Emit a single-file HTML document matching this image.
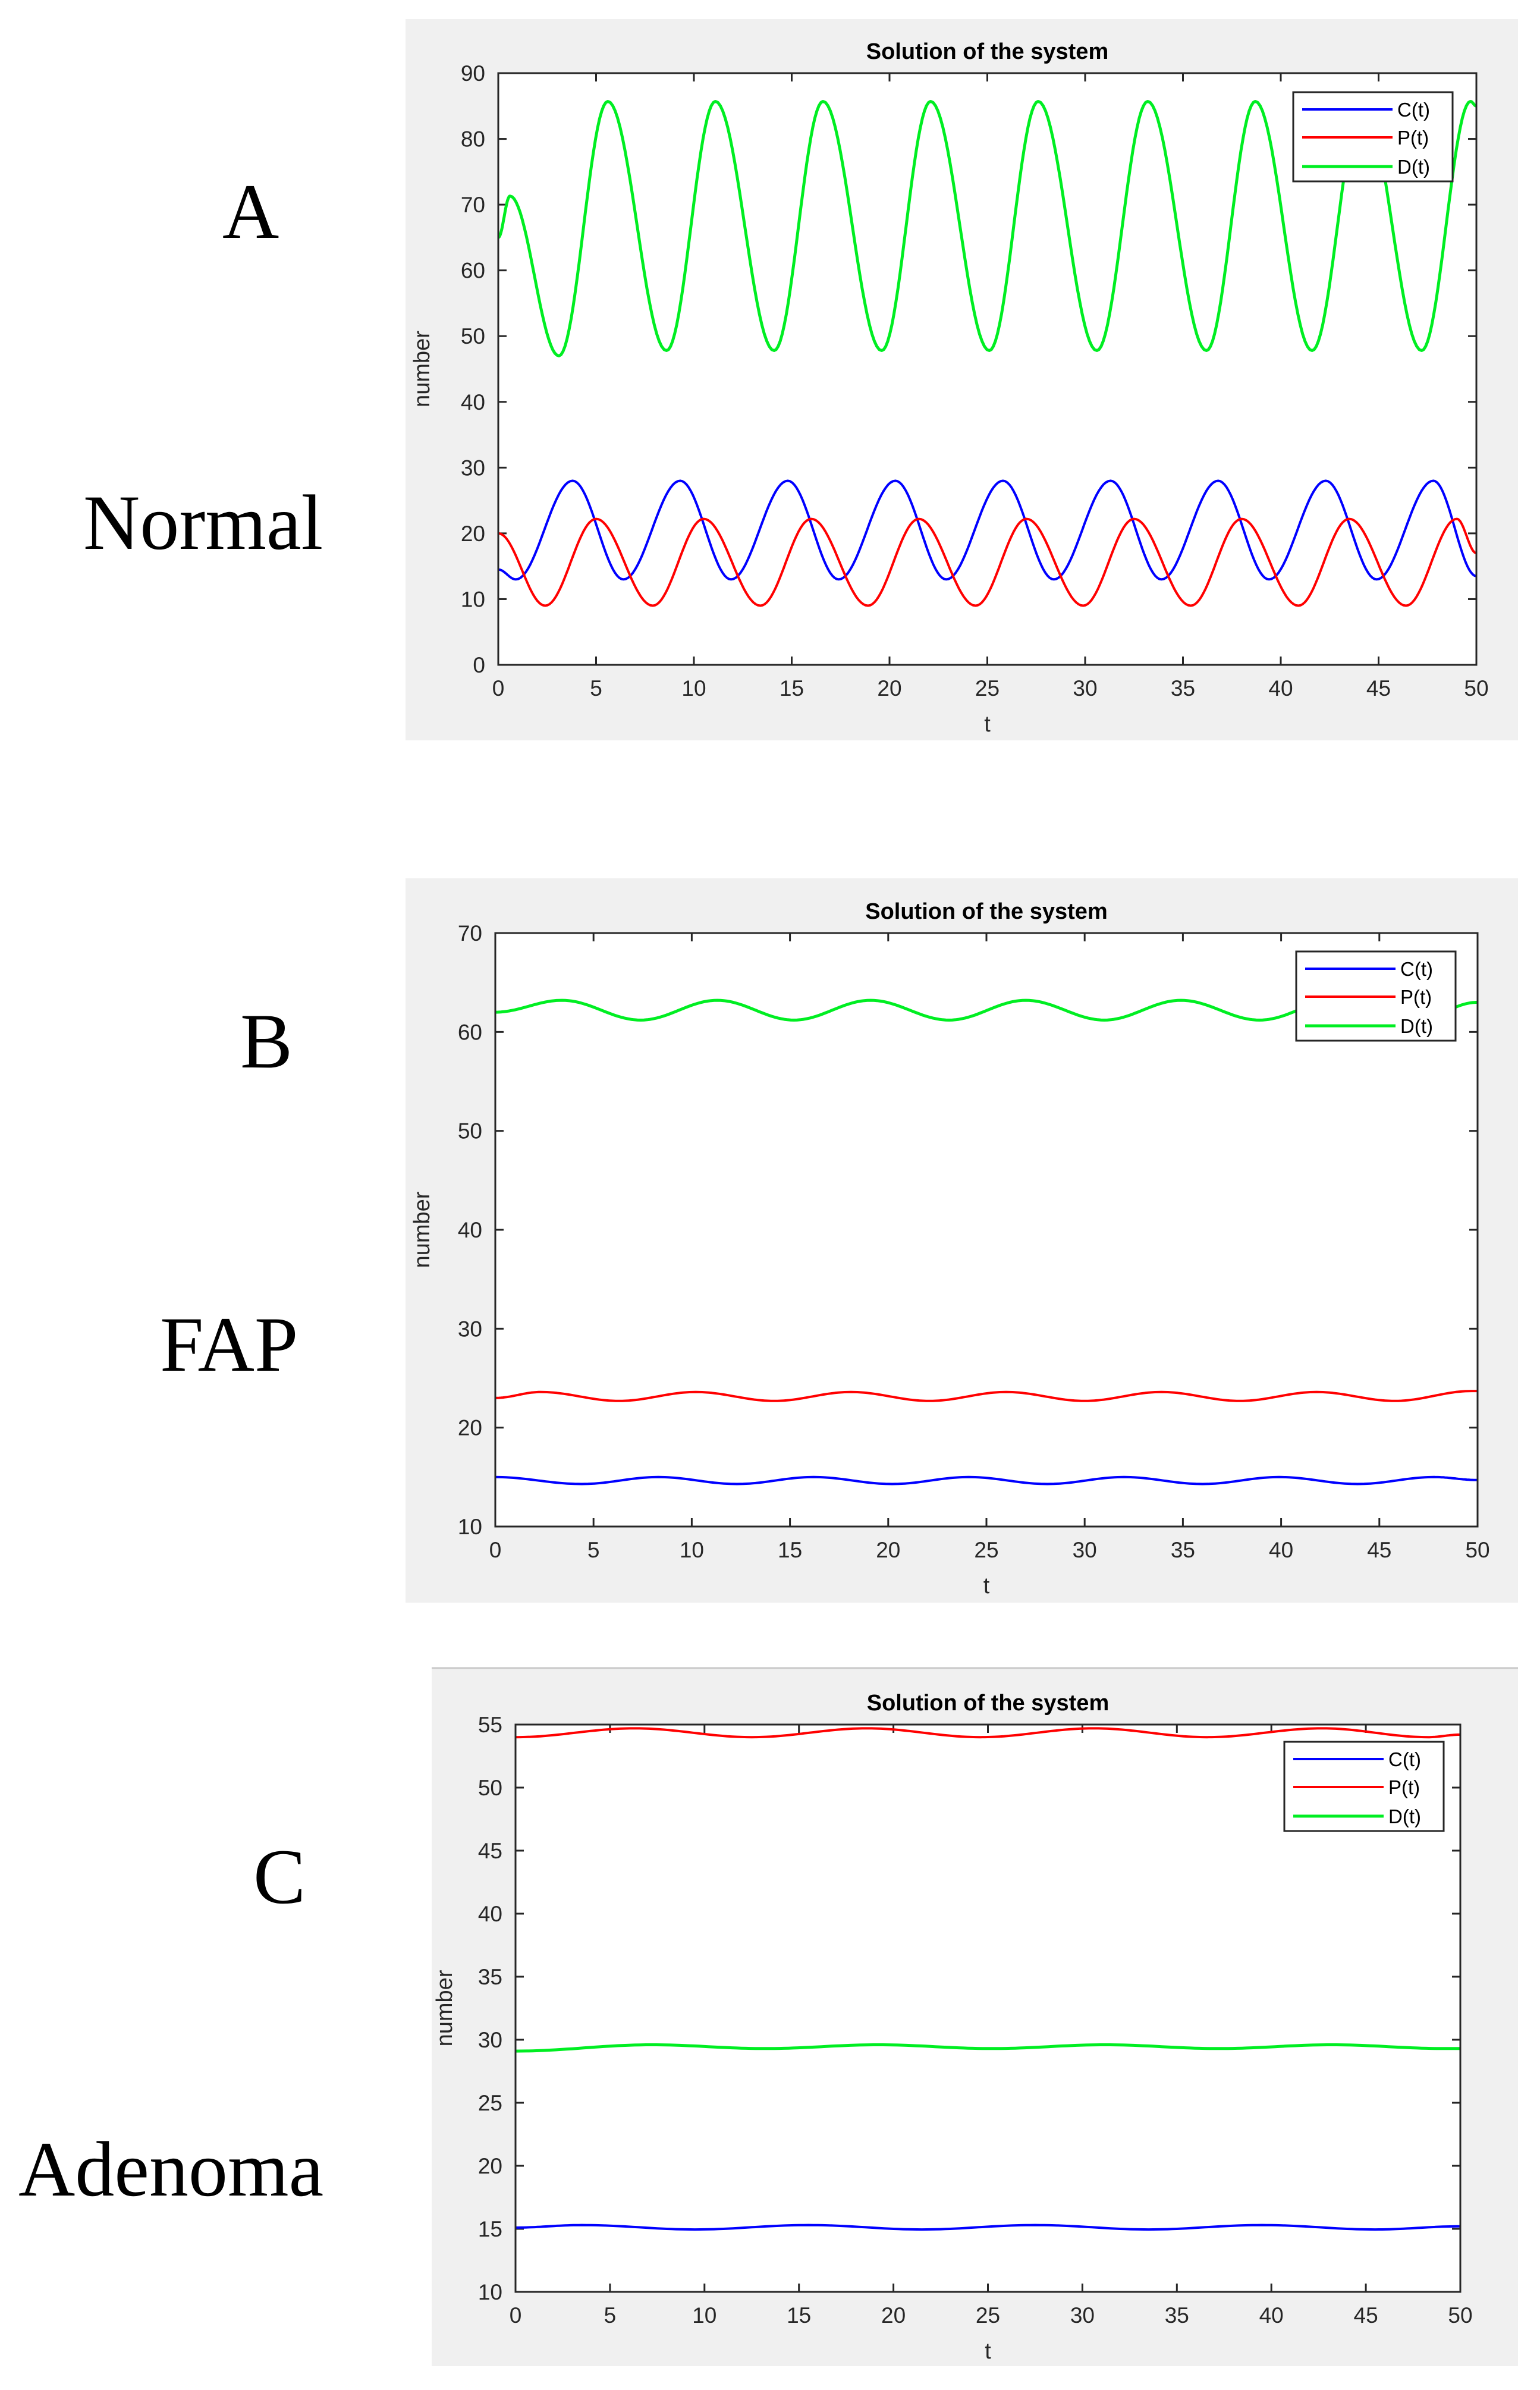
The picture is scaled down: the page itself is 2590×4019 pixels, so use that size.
<!DOCTYPE html>
<html><head><meta charset="utf-8"><style>
html,body{margin:0;padding:0;background:#fff;}
svg{display:block;}
.tk{font-family:"Liberation Sans",sans-serif;font-size:37px;fill:#262626;}
.ttl{font-family:"Liberation Sans",sans-serif;font-size:38px;font-weight:bold;fill:#000;}
.lab{font-family:"Liberation Serif",serif;font-size:132px;fill:#000;}
.lg{font-family:"Liberation Sans",sans-serif;font-size:33px;fill:#000;}
</style></head><body>
<svg id="root" width="2590" height="4019" viewBox="0 0 2590 4019" xmlns="http://www.w3.org/2000/svg">
<text class="lab" x="374" y="400">A</text>
<text class="lab" x="140" y="923">Normal</text>
<text class="lab" x="404" y="1795">B</text>
<text class="lab" x="269" y="2305">FAP</text>
<text class="lab" x="426" y="3200">C</text>
<text class="lab" x="31" y="3692">Adenoma</text>
</svg>
<script>
// ---- Panel A (Normal): extrema [t values] / [y values]
const aC_t=[0,0.9,3.8,6.4,9.3,11.9,14.8,17.4,20.3,22.9,25.8,28.4,31.3,33.9,36.8,39.4,42.3,44.9,47.8,50];
const aC_v=[14.5,13,28,13,28,13,28,13,28,13,28,13,28,13,28,13,28,13,28,13.5];
const aP_t=[0,2.4,5.0,7.9,10.5,13.4,16.0,18.9,21.5,24.4,27.0,29.9,32.5,35.4,38.0,40.9,43.5,46.4,49.0,50];
const aP_v=[20,9,22.2,9,22.2,9,22.2,9,22.2,9,22.2,9,22.2,9,22.2,9,22.2,9,22.2,17];
const aD_t=[0,0.6,3.1,5.6,8.6,11.1,14.1,16.6,19.6,22.1,25.1,27.6,30.6,33.2,36.2,38.7,41.6,44.2,47.2,49.7,50];
const aD_v=[65,71.3,47,85.7,47.8,85.7,47.8,85.7,47.8,85.7,47.8,85.7,47.8,85.7,47.8,85.7,47.8,85.7,47.8,85.7,85];
const aYTicks=[0,10,20,30,40,50,60,70,80,90];
// ---- Panel B (FAP)
const bC_t=[0,4.4,8.3,12.3,16.2,20.2,24.1,28.1,32.0,36.0,39.9,43.9,47.8,50];
const bC_v=[15,14.3,15,14.3,15,14.3,15,14.3,15,14.3,15,14.3,15,14.7];
const bP_t=[0,2.3,6.3,10.2,14.2,18.1,22.1,26.0,30.0,33.9,37.9,41.8,45.8,49.7,50];
const bP_v=[23,23.6,22.7,23.6,22.7,23.6,22.7,23.6,22.7,23.6,22.7,23.6,22.7,23.7,23.7];
const bD_t=[0,3.4,7.4,11.3,15.2,19.1,23.1,27.0,31.0,34.9,38.9,42.8,46.8,50];
const bD_v=[62,63.2,61.2,63.2,61.2,63.2,61.2,63.2,61.2,63.2,61.2,63.2,61.2,63];
const bYTicks=[10,20,30,40,50,60,70];
// ---- Panel C (Adenoma)
const cC_t=[0,3.5,9.5,15.5,21.5,27.5,33.5,39.5,45.5,50];
const cC_v=[15.1,15.3,14.95,15.3,14.95,15.3,14.95,15.3,14.95,15.2];
const cP_t=[0,6.3,12.5,18.6,24.6,30.6,36.6,42.7,48.3,50];
const cP_v=[54,54.7,54,54.7,54,54.7,54,54.7,54,54.2];
const cD_t=[0,7.2,13.2,19.2,25.2,31.2,37.2,43.2,49.2,50];
const cD_v=[29.1,29.6,29.3,29.6,29.3,29.6,29.3,29.6,29.3,29.3];
const cYTicks=[10,15,20,25,30,35,40,45,50,55];
const xTicks=[0,5,10,15,20,25,30,35,40,45,50];

const NS="http://www.w3.org/2000/svg";
const root=document.getElementById('root');
function mk(tag,attrs,parent){const e=document.createElementNS(NS,tag);for(const k in attrs)e.setAttribute(k,attrs[k]);(parent||root).appendChild(e);return e;}

function panel(cfg){
  const g=mk('g',{});
  
  
  const bg=mk('rect',{x:cfg.gx,y:cfg.gy,width:cfg.gw,height:cfg.gh,fill:'#f0f0f0'},g);
  
  
  if(cfg.topLine){const tl=mk('line',{x1:cfg.gx,x2:cfg.gx+cfg.gw,y1:cfg.gy,y2:cfg.gy,stroke:'#c8c8c8','stroke-width':3},g);
    }
  const L=cfg.L,R=cfg.R,T=cfg.T,B=cfg.B;
  const sx=t=>L+(t-0)/(50-0)*(R-L);
  const sy=v=>B-(v-cfg.ymin)/(cfg.ymax-cfg.ymin)*(B-T);
  const plot=mk('rect',{x:L,y:T,width:R-L,height:B-T,fill:'#fff'},g);
  
  
  xTicks.forEach(t=>{
    const x=sx(t);
    mk('line',{x1:x,x2:x,y1:B,y2:B-14,stroke:'#262626','stroke-width':3},g);
    mk('line',{x1:x,x2:x,y1:T,y2:T+14,stroke:'#262626','stroke-width':3},g);
    const tx=mk('text',{x:x,y:B+52,'text-anchor':'middle',class:'tk'},g);tx.textContent=t;
    
    
  });
  cfg.yt.forEach(v=>{
    const y=sy(v);
    mk('line',{x1:L,x2:L+14,y1:y,y2:y,stroke:'#262626','stroke-width':3},g);
    mk('line',{x1:R,x2:R-14,y1:y,y2:y,stroke:'#262626','stroke-width':3},g);
    const tx=mk('text',{x:L-22,y:y+13,'text-anchor':'end',class:'tk'},g);tx.textContent=v;
    
    
  });
  cfg.series.forEach(s=>{
    let d='';
    for(let i=0;i<s.t.length-1;i++){
      const t0=s.t[i],t1=s.t[i+1],v0=s.v[i],v1=s.v[i+1];
      const n=24;
      for(let k=(i==0?0:1);k<=n;k++){
        const f=k/n,t=t0+(t1-t0)*f,v=v0+(v1-v0)*(1-Math.cos(Math.PI*f))/2;
        d+=(d?'L':'M')+sx(t).toFixed(1)+','+sy(v).toFixed(1);
      }
    }
    const p=mk('path',{d:d,fill:'none',stroke:s.c,'stroke-width':s.w,'stroke-linejoin':'round'},g);
    
    
  });
  const ax=mk('rect',{x:L,y:T,width:R-L,height:B-T,fill:'none',stroke:'#262626','stroke-width':3},g);
  
  
  const ti=mk('text',{x:(L+R)/2,y:T-24,'text-anchor':'middle',class:'ttl'},g);ti.textContent='Solution of the system';
  
  
  const xl=mk('text',{x:(L+R)/2,y:B+112,'text-anchor':'middle',class:'tk',style:'font-size:38px'},g);xl.textContent='t';
  
  
  const yl=mk('text',{x:0,y:0,'text-anchor':'middle',class:'tk',style:'font-size:38px',transform:'translate('+cfg.ylx+','+(T+B)/2+') rotate(-90)'},g);yl.textContent='number';
  
  
  const lx=cfg.lx,ly=cfg.ly,lw=268,lh=150;
  const lg=mk('g',{},g);
  
  
  mk('rect',{x:lx,y:ly,width:lw,height:lh,fill:'#fff',stroke:'#262626','stroke-width':3},lg);
  const names=['C(t)','P(t)','D(t)'],cols=['#0000ff','#ff0000','#00ee22'],offs=[29,76,125];
  names.forEach((nm,i)=>{
    const y=ly+offs[i];
    const ln=mk('line',{x1:lx+15,x2:lx+167,y1:y,y2:y,stroke:cols[i],'stroke-width':i==2?5:4},lg);
    
    
    const tx=mk('text',{x:lx+175,y:y+12,class:'lg'},lg);tx.textContent=nm;
    
    
  });
}
function ser(ct,cv,pt,pv,dt,dv){return [
  {t:ct,v:cv,c:'#0000ff',w:4,n:'series-c'},
  {t:pt,v:pv,c:'#ff0000',w:4,n:'series-p'},
  {t:dt,v:dv,c:'#00ee22',w:5,n:'series-d'}];}
panel({name:'chart-normal',gx:682,gy:32,gw:1871,gh:1213,L:838,R:2483,T:123,B:1118,ymin:0,ymax:90,yt:aYTicks,ylx:722,lx:2175,ly:155,
  series:ser(aC_t,aC_v,aP_t,aP_v,aD_t,aD_v)});
panel({name:'chart-fap',gx:682,gy:1477,gw:1871,gh:1218,L:833,R:2485,T:1569,B:2567,ymin:10,ymax:70,yt:bYTicks,ylx:722,lx:2180,ly:1600,
  series:ser(bC_t,bC_v,bP_t,bP_v,bD_t,bD_v)});
panel({name:'chart-adenoma',gx:726,gy:2805,gw:1827,gh:1174,topLine:true,L:867,R:2456,T:2900,B:3854,ymin:10,ymax:55,yt:cYTicks,ylx:760,lx:2160,ly:2929,
  series:ser(cC_t,cC_v,cP_t,cP_v,cD_t,cD_v)});
</script>
</body></html>
